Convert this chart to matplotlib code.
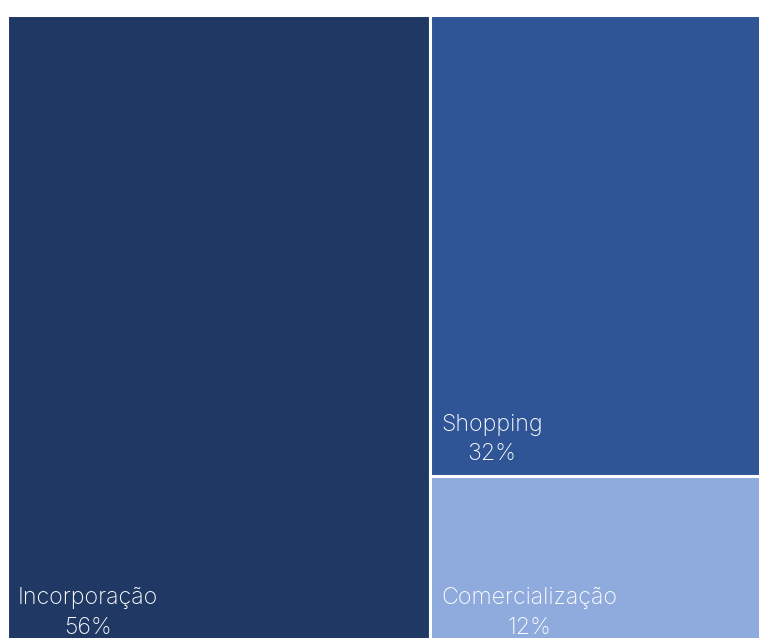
import matplotlib
matplotlib.use("Agg")
import matplotlib.pyplot as plt
from matplotlib.patches import Rectangle

categories = ["Incorporação", "Shopping", "Comercialização"]
values = [56, 32, 12]
labels = ["56%", "32%", "12%"]
colors = ["#203864", "#2F5597", "#8FAADC"]

W, H = 759, 638
fig = plt.figure(figsize=(W / 100, H / 100), dpi=100)
# axes extends a little beyond the right/bottom edge (clipped like the reference)
left, top, aw, ah = 6.5, 14.5, 756, 635
ax = fig.add_axes([left / W, (H - top - ah) / H, aw / W, ah / H])
ax.set_xlim(0, 1)
ax.set_ylim(0, 1)
ax.axis("off")

total = sum(values)
# layout: first item full height on the left, the rest stacked on the right
w0 = values[0] / total
rects = [(0, 0, w0, 1)]
rest = sum(values[1:])
ytop = 1.0
for v in values[1:]:
    h = v / rest
    rects.append((w0, ytop - h, 1 - w0, h))
    ytop -= h

for (x, y, w, h), c, cat, lab in zip(rects, colors, categories, labels):
    ax.add_patch(Rectangle((x, y), w, h, facecolor=c, edgecolor="white",
                           linewidth=2.2, clip_on=False))
    ax.annotate(f"{cat}\n{lab}", xy=(x, y), xytext=(11.5, 16),
                textcoords="offset pixels", ha="left", va="baseline",
                multialignment="center", color="white", fontsize=16.7,
                family=["Inter", "DejaVu Sans"], linespacing=1.45,
                fontweight="light", annotation_clip=False)

fig.savefig("out.png", dpi=100)
